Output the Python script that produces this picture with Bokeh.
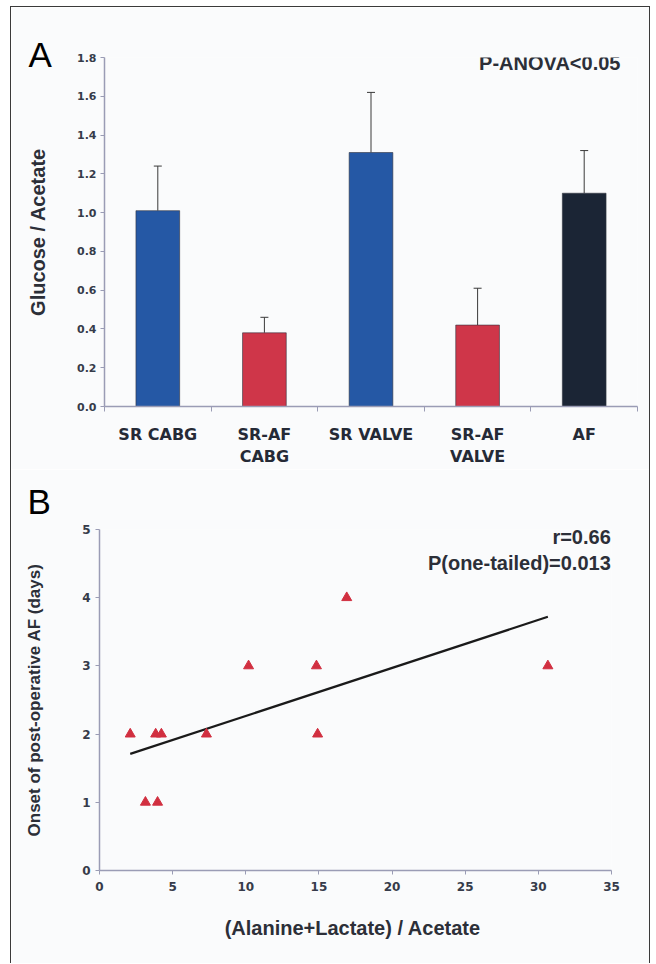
import numpy as np
from bokeh.plotting import figure
from bokeh.models import Range1d, FixedTicker, Whisker, TeeHead, ColumnDataSource, Label, PrintfTickFormatter, Title
from bokeh.layouts import column
from bokeh.embed import file_html
from bokeh.resources import INLINE

# ---------------- data: panel A ----------------
categories = ["SR CABG", "SR-AF\nCABG", "SR VALVE", "SR-AF\nVALVE", "AF"]
ratio_mean = [1.01, 0.38, 1.31, 0.42, 1.10]
ratio_sem = [0.23, 0.08, 0.31, 0.19, 0.22]
bar_colors = ["#2558a5", "#cf3649", "#2558a5", "#cf3649", "#1b2535"]
y_ticks_a = [0.0, 0.2, 0.4, 0.6, 0.8, 1.0, 1.2, 1.4, 1.6, 1.8]

# ---------------- data: panel B ----------------
ala_lac_acetate = [2.1, 3.14, 3.97, 3.84, 4.23, 7.31, 10.19, 14.83, 14.91, 16.9, 30.65]
onset_days = [2, 1, 1, 2, 2, 2, 3, 3, 2, 4, 3]
fit_x = [2.1, 30.65]
fit_y = [1.71, 3.72]
x_ticks_b = [0, 5, 10, 15, 20, 25, 30, 35]
y_ticks_b = [0, 1, 2, 3, 4, 5]

AXIS_C = "#9a9cb5"
TICK_TXT = "#363b4a"
TITLE_C = "#2c2f38"
BG = "#fafbfc"
TITLE_FONT = "Liberation Sans"
TICK_FONT = "DejaVu Sans"

# ---------------- panel A ----------------
pA = figure(width=638, height=462, x_range=Range1d(0, 5), y_range=Range1d(0, 1.8),
            output_backend="svg", toolbar_location=None,
            min_border_left=93, min_border_right=12, min_border_top=50, min_border_bottom=60)
pA.frame_align = False
pA.background_fill_color = BG
pA.border_fill_color = BG
pA.outline_line_color = None
pA.xgrid.visible = False
pA.ygrid.visible = False

xs = [i + 0.5 for i in range(len(categories))]
srcA = ColumnDataSource(dict(x=xs, top=ratio_mean, color=bar_colors,
                             upper=[m + s for m, s in zip(ratio_mean, ratio_sem)]))
pA.vbar(x="x", top="top", width=0.41, bottom=0, fill_color="color",
        line_color="#30343f", line_alpha=0.6, line_width=1, source=srcA)
wk = Whisker(base="x", lower="top", upper="upper", source=srcA,
             line_color="#3a3a3a", line_width=1,
             upper_head=TeeHead(size=8, line_color="#3a3a3a", line_width=1), lower_head=None)
pA.add_layout(wk)

pA.xaxis.ticker = FixedTicker(ticks=xs, minor_ticks=list(range(len(categories) + 1)))
pA.xaxis.major_label_overrides = {x: c for x, c in zip(xs, categories)}
pA.xaxis.major_tick_line_color = None
pA.xaxis.minor_tick_line_color = AXIS_C
pA.xaxis.minor_tick_out = 5
pA.xaxis.minor_tick_in = 0
pA.xaxis.major_label_standoff = 12
pA.xaxis.major_label_text_font = TICK_FONT
pA.xaxis.major_label_text_font_style = "bold"
pA.xaxis.major_label_text_font_size = "16px"
pA.xaxis.major_label_text_color = "#252a36"

pA.yaxis.ticker = FixedTicker(ticks=y_ticks_a)
pA.yaxis.formatter = PrintfTickFormatter(format="%.1f")
pA.yaxis.minor_tick_line_color = None
pA.yaxis.major_tick_out = 4
pA.yaxis.major_tick_in = 0
pA.yaxis.major_tick_line_color = AXIS_C
pA.yaxis.major_label_standoff = 4
pA.yaxis.major_label_text_font = TICK_FONT
pA.yaxis.major_label_text_font_style = "bold"
pA.yaxis.major_label_text_font_size = "11px"
pA.yaxis.major_label_text_color = TICK_TXT
pA.yaxis.axis_label = "Glucose / Acetate"
pA.yaxis.axis_label_text_font = TITLE_FONT
pA.yaxis.axis_label_text_font_style = "bold"
pA.yaxis.axis_label_text_font_size = "20px"
pA.yaxis.axis_label_text_color = TITLE_C
pA.yaxis.axis_label_standoff = 25
for ax in (pA.xaxis, pA.yaxis):
    ax.axis_line_color = AXIS_C
    ax.axis_line_width = 1.5

pA.add_layout(Label(x=4.84, y=1.827, text="P-ANOVA<0.05", text_align="right", text_baseline="top",
                    text_font=TITLE_FONT, text_font_style="bold", text_font_size="20px",
                    text_color=TITLE_C))
try:
    titleA = Title(text="A", align="left", offset=-76, standoff=-32,
                   text_font=TITLE_FONT, text_font_style="normal", text_font_size="35px",
                   text_color="#000000")
except Exception:
    titleA = Title(text="A", align="left", offset=-76, standoff=0,
                   text_font=TITLE_FONT, text_font_style="normal", text_font_size="35px",
                   text_color="#000000")
pA.add_layout(titleA, "above")

# ---------------- panel B ----------------
pB = figure(width=638, height=494, x_range=Range1d(0, 35), y_range=Range1d(0, 5),
            output_backend="svg", toolbar_location=None,
            min_border_left=88, min_border_right=38, min_border_top=60, min_border_bottom=93)
pB.frame_align = False
pB.background_fill_color = BG
pB.border_fill_color = BG
pB.outline_line_color = None
pB.xgrid.visible = False
pB.ygrid.visible = False

pB.line(fit_x, fit_y, line_color="#1a1a1a", line_width=2.2)
pB.scatter(ala_lac_acetate, onset_days, marker="triangle", size=10,
           fill_color="#d12f40", line_color="#d12f40")

pB.xaxis.ticker = FixedTicker(ticks=x_ticks_b)
pB.yaxis.ticker = FixedTicker(ticks=y_ticks_b)
for ax in (pB.xaxis, pB.yaxis):
    ax.axis_line_color = AXIS_C
    ax.axis_line_width = 1.5
    ax.minor_tick_line_color = None
    ax.major_tick_out = 4
    ax.major_tick_in = 0
    ax.major_tick_line_color = AXIS_C
    ax.major_label_text_font = TICK_FONT
    ax.major_label_text_font_style = "bold"
    ax.major_label_text_font_size = "12px"
    ax.major_label_text_color = TICK_TXT
    ax.axis_label_text_font = TITLE_FONT
    ax.axis_label_text_font_style = "bold"
    ax.axis_label_text_color = TITLE_C
pB.xaxis.major_label_standoff = 7
pB.yaxis.major_label_standoff = 5
pB.xaxis.axis_label = "(Alanine+Lactate)  / Acetate"
pB.xaxis.axis_label_text_font_size = "20px"
pB.xaxis.axis_label_standoff = 23
pB.yaxis.axis_label = "Onset of post-operative AF (days)"
pB.yaxis.axis_label_text_font_size = "17px"
pB.yaxis.axis_label_standoff = 35

pB.add_layout(Label(x=34.95, y=4.89, text="r=0.66", text_align="right", text_baseline="alphabetic",
                    text_font=TITLE_FONT, text_font_style="bold", text_font_size="20px",
                    text_color=TITLE_C))
pB.add_layout(Label(x=34.95, y=4.51, text="P(one-tailed)=0.013", text_align="right",
                    text_baseline="alphabetic", text_font=TITLE_FONT, text_font_style="bold",
                    text_font_size="20px", text_color=TITLE_C))
pB.add_layout(Title(text="B", align="left", offset=-72, standoff=18,
                    text_font=TITLE_FONT, text_font_style="normal", text_font_size="35px",
                    text_color="#000000"), "above")

layout = column(pA, pB, styles={"border-left": "1.5px solid #3a3a3a",
                                "border-top": "1.5px solid #3a3a3a",
                                "border-right": "1.5px solid #3a3a3a",
                                "margin-left": "10px", "margin-top": "6px"})

open("out.html", "w").write(file_html(layout, INLINE))
